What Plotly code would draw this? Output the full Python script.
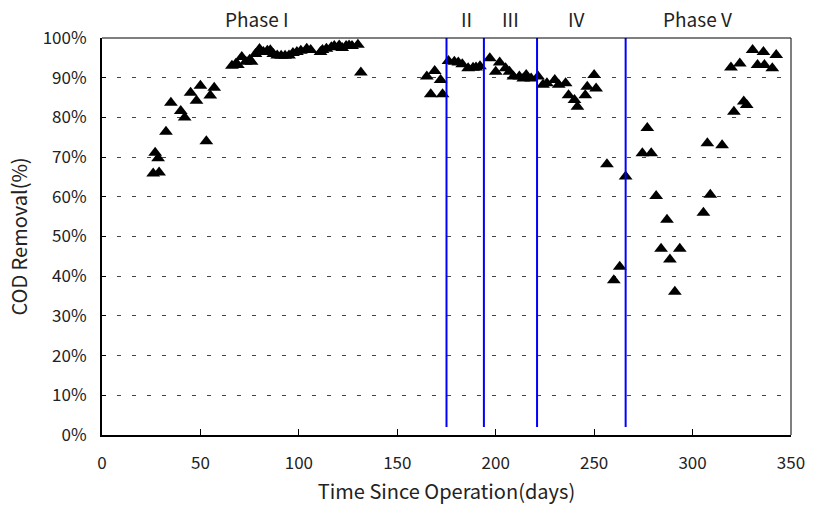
import plotly.graph_objects as go

# Day since operation and COD removal (%)
days = [26, 29, 27, 28.5, 32.5, 35, 40, 42, 45, 48, 50, 53, 55, 57,
        66, 68, 69, 71, 73, 75, 76, 78, 80, 82, 84, 85.5, 87, 89, 91, 93, 95, 97, 99, 101,
        104, 106, 111, 112, 114, 116.5, 118, 120.5, 122, 124, 125.5, 127, 130, 131.5,
        165, 169, 172, 167, 173, 176, 179, 181, 183, 186, 188.5, 190, 192, 197, 200, 202,
        205, 207, 209, 212, 214, 215.5, 218, 221.5, 224, 226, 230, 232, 235.5, 237, 240,
        241.5, 245.5, 246.5, 250, 251, 256.5,
        260, 263, 266, 274.5, 277, 279, 281.5, 284, 287, 288.5, 291, 293.5, 305.5, 307.5,
        309, 315, 319.5, 321, 324, 326, 327.5, 330.5, 333, 336, 336.5, 340.5, 342.5]
removal = [65.9, 66.1, 71.1, 69.7, 76.4, 83.7, 81.6, 80, 86.2, 84.2, 88, 74, 85.5, 87.5,
           93, 93.5, 93.2, 95.2, 94, 94.5, 94, 96, 97.2, 96.5, 96.8, 96.9, 96, 95.6, 95.5, 95.5, 95.6, 96.2, 96.5, 96.8,
           97.3, 97, 96.5, 97, 97.3, 97.7, 98, 98.1, 97.5, 98, 98.1, 98, 98.3, 91.3,
           90.3, 91.7, 89.4, 85.8, 85.8, 94.2, 94, 93.8, 93.4, 92.4, 92.5, 92.6, 92.9, 94.9, 91.5, 93.8,
           92.4, 91.5, 90.3, 90.3, 89.8, 90.7, 89.8, 90.3, 88.2, 88.6, 89.4, 88.2, 88.6, 85.6, 84.4,
           82.7, 85.6, 87.7, 90.7, 87.3, 68.2,
           39, 42.4, 65.1, 71, 77.3, 71, 60.2, 46.9, 54.2, 44.2, 36.1, 46.9, 56, 73.5,
           60.5, 73, 92.6, 81.4, 93.6, 84, 83.1, 97, 93.2, 96.5, 93.2, 92.4, 95.7]

phase_boundaries = [175, 194, 221, 266]
phase_labels = ["Phase I", "II", "III", "IV", "Phase V"]
phase_label_x = [78.5, 185, 207.5, 241, 302.5]

x_ticks = [0, 50, 100, 150, 200, 250, 300, 350]
y_ticks = [0, 10, 20, 30, 40, 50, 60, 70, 80, 90, 100]

FONT = "Noto Sans CJK KR, sans-serif"

fig = go.Figure()
fig.add_trace(go.Scatter(
    x=days, y=removal, mode="markers",
    marker=dict(symbol="triangle-up", size=12, color="black"),
    showlegend=False, cliponaxis=False,
))

for xb in phase_boundaries:
    fig.add_shape(type="line", xref="x", yref="y", x0=xb, x1=xb, y0=2, y1=100,
                  line=dict(color="#0000ff", width=2))

# top and right frame
fig.add_shape(type="line", xref="paper", yref="paper", x0=0, x1=1, y0=1, y1=1,
              line=dict(color="black", width=1))
fig.add_shape(type="line", xref="paper", yref="paper", x0=1, x1=1, y0=0, y1=1,
              line=dict(color="black", width=1))

for lbl, lx in zip(phase_labels, phase_label_x):
    fig.add_annotation(x=lx, y=1.05, xref="x", yref="paper", text=lbl,
                       showarrow=False, font=dict(family=FONT, size=19, color="#222"),
                       yanchor="middle")

fig.update_layout(
    width=817, height=512,
    margin=dict(l=102, r=20, t=38, b=77),
    plot_bgcolor="white", paper_bgcolor="white",
    font=dict(family=FONT, size=17, color="#222"),
)
fig.update_xaxes(
    range=[0, 350], tickvals=x_ticks, ticktext=[str(v) for v in x_ticks],
    showgrid=False, zeroline=False,
    showline=True, linecolor="black", linewidth=2,
    ticks="inside", ticklen=6, tickcolor="black", tickwidth=1, ticklabelstandoff=12,
    title=dict(text="Time Since Operation(days)", font=dict(family=FONT, size=20), standoff=12),
)
fig.update_yaxes(
    range=[0, 100], tickvals=y_ticks, ticktext=[f"{v}%" for v in y_ticks],
    showgrid=True, gridcolor="#444", gridwidth=1, griddash="4px,11px",
    zeroline=False, showline=True, linecolor="black", linewidth=2,
    ticks="inside", ticklen=4, tickcolor="black", tickwidth=1, ticklabelstandoff=10,
    title=dict(text="COD Removal(%)", font=dict(family=FONT, size=20), standoff=10),
)

fig.write_html("out.html")
